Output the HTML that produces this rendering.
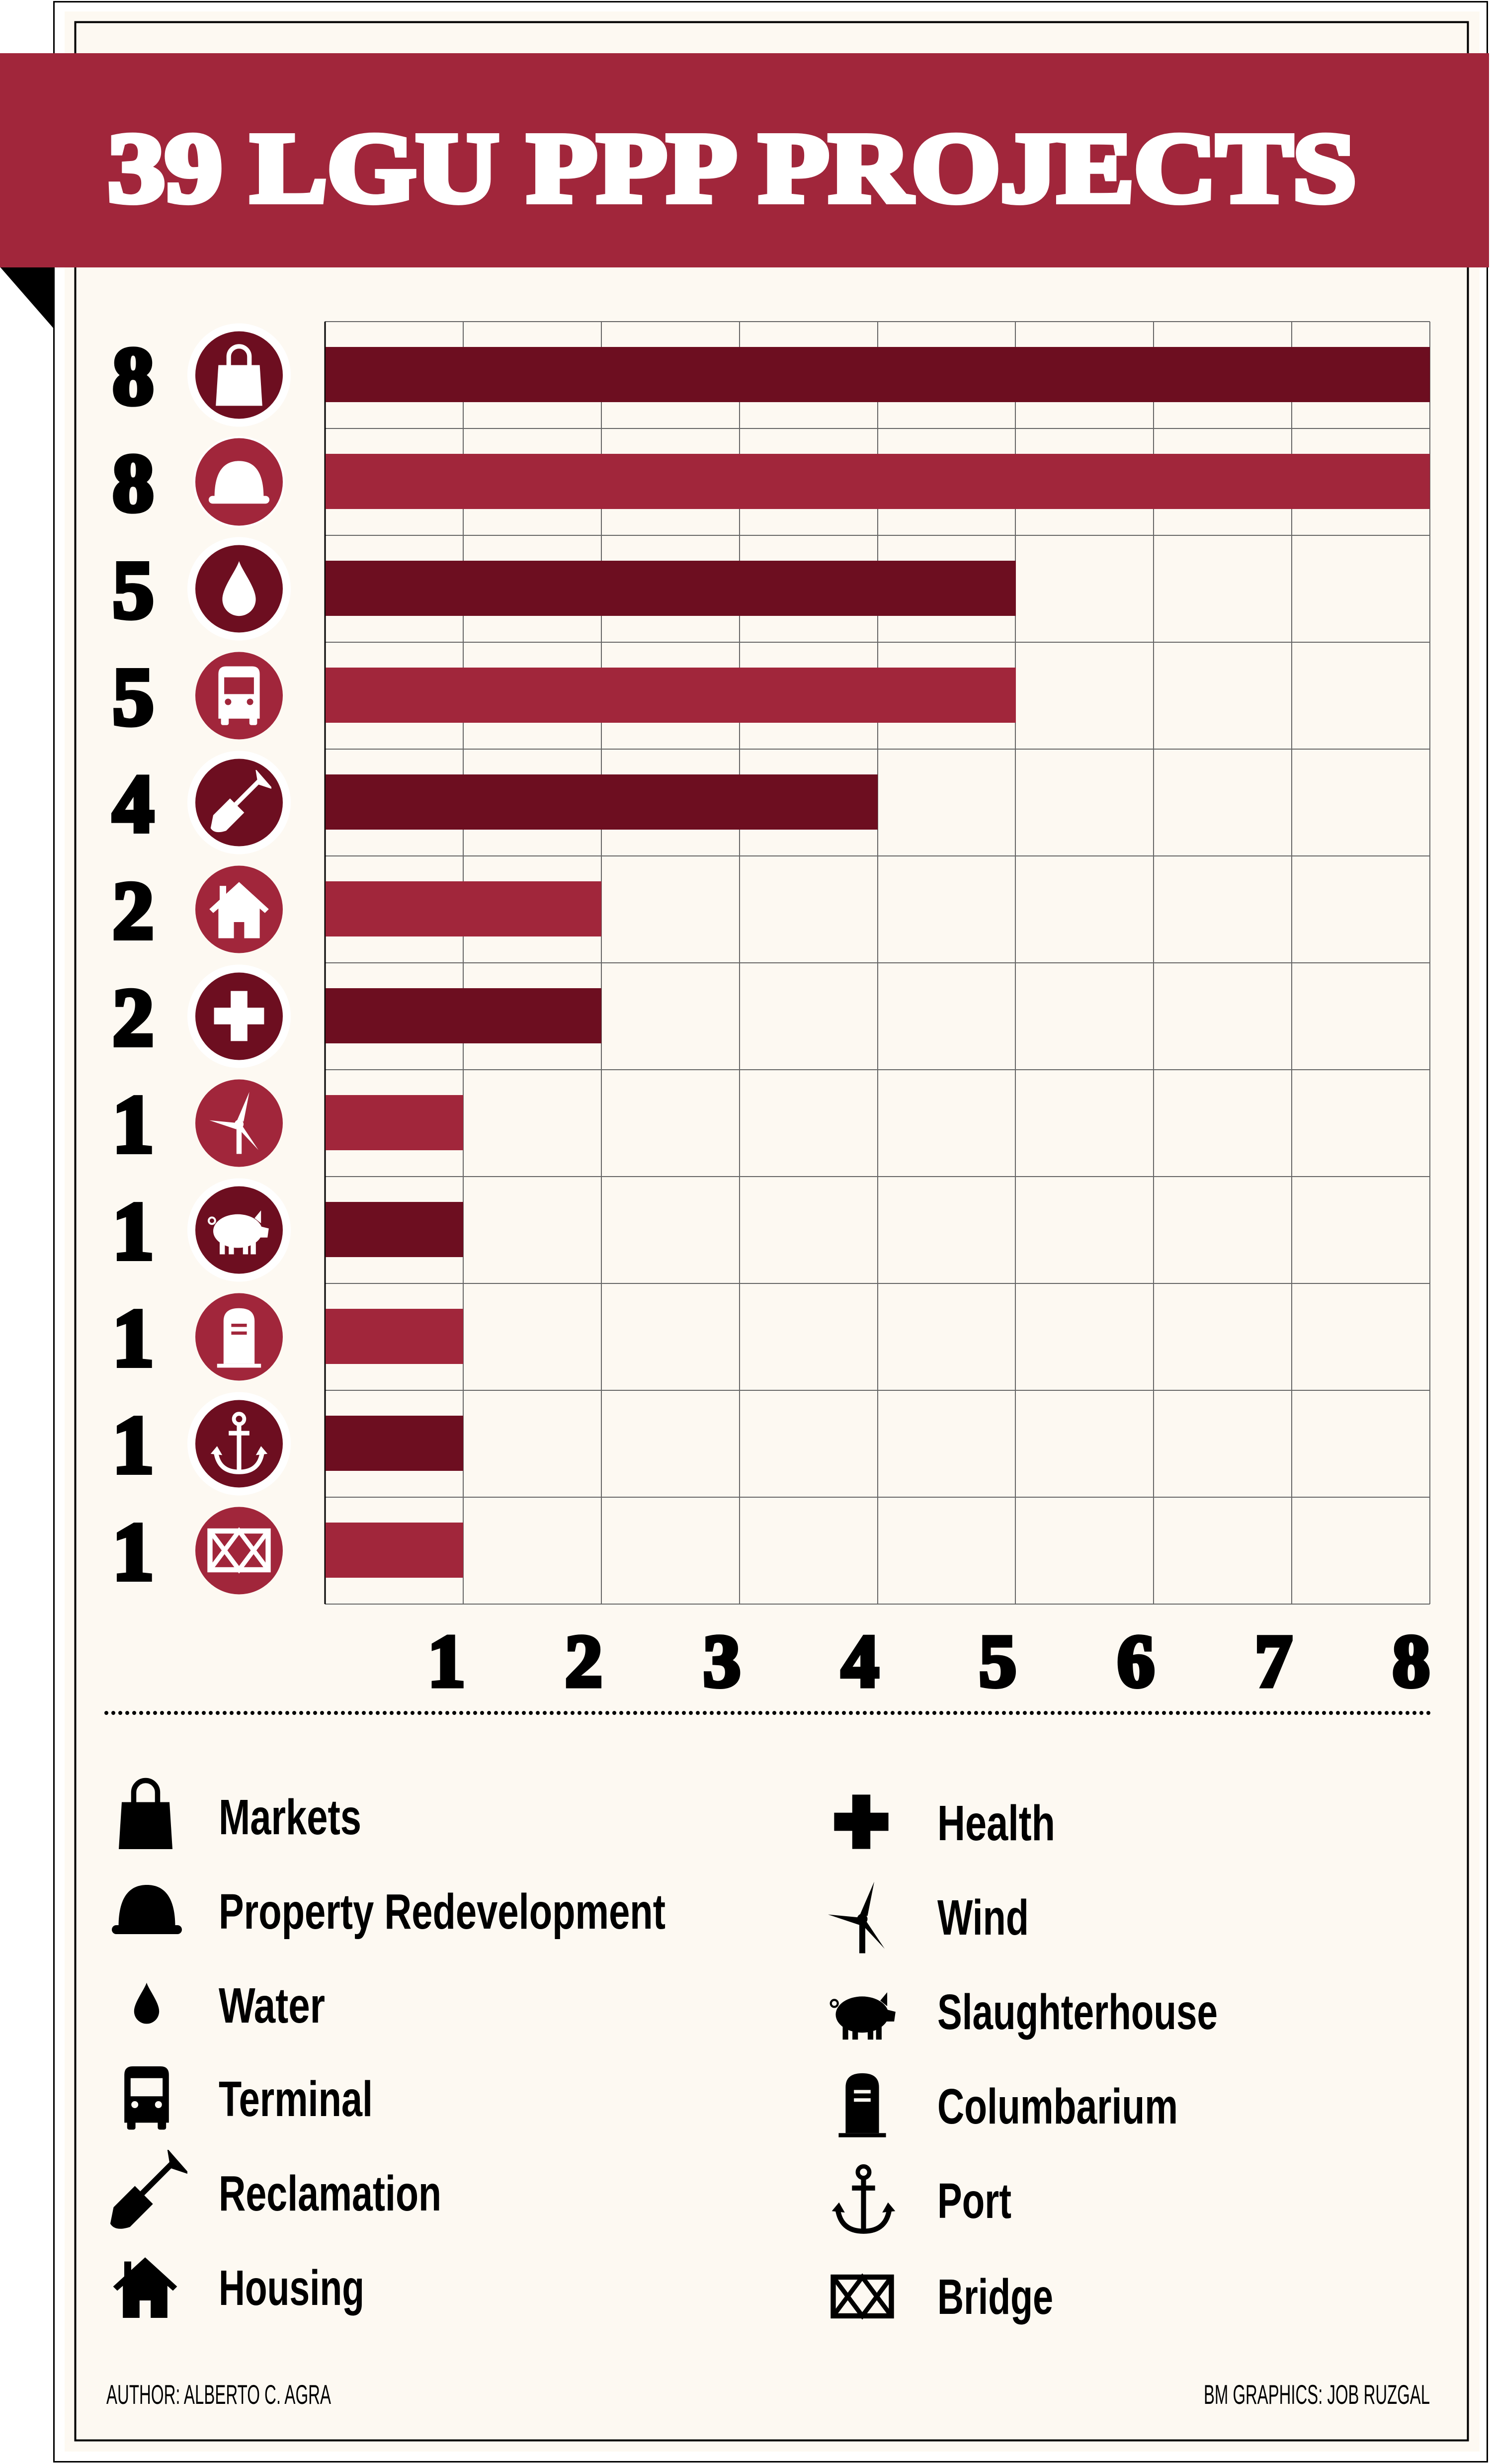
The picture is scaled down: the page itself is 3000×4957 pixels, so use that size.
<!DOCTYPE html>
<html><head><meta charset="utf-8"><style>
html,body{margin:0;padding:0;background:#fff;}
svg{display:block;}
</style></head><body>
<svg width="3000" height="4957" viewBox="0 0 3000 4957" xmlns="http://www.w3.org/2000/svg">
<defs>
<symbol id="bag" viewBox="0 0 100 100"><path d="M18 35 H82 L86 98 H14 Z" fill="currentColor"/><path d="M34 42 V22 a16 16 0 0 1 32 0 V42" fill="none" stroke="currentColor" stroke-width="7"/></symbol>
<symbol id="helmet" viewBox="0 0 100 100"><path d="M12 74 C12 30 30 18 50 18 C70 18 88 30 88 74 Z" fill="currentColor"/><rect x="3" y="72" width="94" height="12" rx="6" fill="currentColor"/></symbol>
<symbol id="drop" viewBox="0 0 100 100"><path d="M50 4 C45 20 22 48 22 68 A28 28 0 0 0 78 68 C78 48 55 20 50 4Z" fill="currentColor"/></symbol>
<symbol id="bus" viewBox="0 0 100 100"><path fill-rule="evenodd" fill="currentColor" d="M30 5 H70 Q82 5 82 17 V86 H18 V17 Q18 5 30 5 Z M27 22 V48 H73 V22 Z M28 60 a5 5 0 1 0 10 0 a5 5 0 1 0 -10 0 Z M62 60 a5 5 0 1 0 10 0 a5 5 0 1 0 -10 0Z"/><rect x="22" y="82" width="12" height="14" rx="3" fill="currentColor"/><rect x="66" y="82" width="12" height="14" rx="3" fill="currentColor"/></symbol>
<symbol id="shovel" viewBox="0 0 100 100"><path d="M42 56 L84 14" stroke="currentColor" stroke-width="7" fill="none"/><path d="M80 8 L94 24 L82 20 Z" fill="none" stroke="currentColor" stroke-width="6"/><path d="M36 44 L58 66 L30 94 Q12 100 6 90 L10 70 Z" fill="currentColor"/></symbol>
<symbol id="house" viewBox="0 0 100 100"><path fill="currentColor" fill-rule="evenodd" d="M50 8 L96 50 L90 56 L82 49 V95 H18 V49 L10 56 L4 50 Z M42 95 V70 H58 V95 Z"/><rect x="20" y="14" width="10" height="22" fill="currentColor"/></symbol>
<symbol id="cross" viewBox="0 0 100 100"><path fill="currentColor" d="M36 8 H64 V36 H92 V64 H64 V92 H36 V64 H8 V36 H36 Z"/></symbol>
<symbol id="wind" viewBox="0 0 100 100"><rect x="46" y="52" width="8" height="46" fill="currentColor"/><path fill="currentColor" d="M47 46 L66 2 L57 48 Z M46 50 L4 46 L46 60 Z M54 53 L80 92 L51 61 Z"/><circle cx="50" cy="52" r="7" fill="currentColor"/></symbol>
<symbol id="pig" viewBox="0 0 100 100"><ellipse cx="48" cy="52" rx="38" ry="26" fill="currentColor"/><path d="M74 32 L84 20 L84 40 Z M80 44 L96 48 L94 62 L80 62 Z" fill="currentColor"/><rect x="20" y="66" width="8" height="22" fill="currentColor"/><rect x="34" y="66" width="8" height="22" fill="currentColor"/><rect x="56" y="66" width="8" height="22" fill="currentColor"/><rect x="68" y="66" width="8" height="22" fill="currentColor"/><circle cx="8" cy="36" r="5" fill="none" stroke="currentColor" stroke-width="3"/></symbol>
<symbol id="tomb" viewBox="0 0 100 100"><path fill="currentColor" fill-rule="evenodd" d="M26 92 V26 Q26 6 50 6 Q74 6 74 26 V92 Z M38 30 H62 V35 H38 Z M38 42 H62 V47 H38 Z"/><rect x="16" y="92" width="68" height="6" fill="currentColor"/></symbol>
<symbol id="anchor" viewBox="0 0 100 100"><circle cx="50" cy="12" r="8" fill="none" stroke="currentColor" stroke-width="6"/><path d="M50 20 V94 M34 34 H66 M14 62 Q18 94 50 94 Q82 94 86 62" fill="none" stroke="currentColor" stroke-width="7"/><path d="M6 66 L16 54 L24 68 Z M94 66 L84 54 L76 68 Z" fill="currentColor"/></symbol>
<symbol id="bridge" viewBox="0 0 100 100"><rect x="5" y="20" width="90" height="60" fill="none" stroke="currentColor" stroke-width="8"/><path d="M5 20 L50 80 L95 20 M5 80 L50 20 L95 80" fill="none" stroke="currentColor" stroke-width="7"/></symbol>
</defs>

<rect x="0" y="0" width="3000" height="4957" fill="#fff"/>
<rect x="108.5" y="3.5" width="2884" height="4949" fill="#fff" stroke="#000" stroke-width="3"/>
<rect x="130" y="23" width="2847" height="4909" fill="#FDF9F2"/>
<rect x="151.5" y="44.5" width="2802" height="4865" fill="#FDF9F2" stroke="#000" stroke-width="4"/>

<polygon points="0,537 109,537 109,662" fill="#000"/>
<rect x="0" y="107" width="2996" height="431" fill="#A1263B"/>
<text x="217" y="405" font-family="Liberation Serif, serif" font-weight="bold" font-size="200" fill="#fff" stroke="#fff" stroke-width="12" textLength="2512" lengthAdjust="spacingAndGlyphs">39 LGU PPP PROJECTS</text>

<g stroke="#666" stroke-width="2">
<line x1="654" y1="647" x2="2877" y2="647"/><line x1="654" y1="862" x2="2877" y2="862"/><line x1="654" y1="1077" x2="2877" y2="1077"/><line x1="654" y1="1292" x2="2877" y2="1292"/><line x1="654" y1="1507" x2="2877" y2="1507"/><line x1="654" y1="1722" x2="2877" y2="1722"/><line x1="654" y1="1937" x2="2877" y2="1937"/><line x1="654" y1="2152" x2="2877" y2="2152"/><line x1="654" y1="2367" x2="2877" y2="2367"/><line x1="654" y1="2582" x2="2877" y2="2582"/><line x1="654" y1="2797" x2="2877" y2="2797"/><line x1="654" y1="3012" x2="2877" y2="3012"/><line x1="654" y1="3227" x2="2877" y2="3227"/>
<line x1="932" y1="647" x2="932" y2="3227"/><line x1="1210" y1="647" x2="1210" y2="3227"/><line x1="1488" y1="647" x2="1488" y2="3227"/><line x1="1766" y1="647" x2="1766" y2="3227"/><line x1="2043" y1="647" x2="2043" y2="3227"/><line x1="2321" y1="647" x2="2321" y2="3227"/><line x1="2599" y1="647" x2="2599" y2="3227"/><line x1="2877" y1="647" x2="2877" y2="3227"/>
</g>
<line x1="654" y1="647" x2="654" y2="3227" stroke="#000" stroke-width="3"/>

<rect x="655" y="698" width="2222" height="111" fill="#6D0E20"/>
<rect x="655" y="913" width="2222" height="111" fill="#A1263B"/>
<rect x="655" y="1128" width="1389" height="111" fill="#6D0E20"/>
<rect x="655" y="1343" width="1389" height="111" fill="#A1263B"/>
<rect x="655" y="1558" width="1111" height="111" fill="#6D0E20"/>
<rect x="655" y="1773" width="555" height="111" fill="#A1263B"/>
<rect x="655" y="1988" width="555" height="111" fill="#6D0E20"/>
<rect x="655" y="2203" width="277" height="111" fill="#A1263B"/>
<rect x="655" y="2418" width="277" height="111" fill="#6D0E20"/>
<rect x="655" y="2633" width="277" height="111" fill="#A1263B"/>
<rect x="655" y="2848" width="277" height="111" fill="#6D0E20"/>
<rect x="655" y="3063" width="277" height="111" fill="#A1263B"/>

<g font-family="Liberation Serif, serif" font-weight="bold" font-size="165" text-anchor="middle" fill="#000" stroke="#000" stroke-width="10">
<text x="268" y="812">8</text><text x="268" y="1027">8</text><text x="268" y="1242">5</text><text x="268" y="1457">5</text><text x="268" y="1672">4</text><text x="268" y="1887">2</text><text x="268" y="2102">2</text><text x="268" y="2317">1</text><text x="268" y="2532">1</text><text x="268" y="2747">1</text><text x="268" y="2962">1</text><text x="268" y="3177">1</text>
</g>

<g>
<circle cx="481" cy="754.5" r="104" fill="#fff"/><circle cx="481" cy="754.5" r="88" fill="#6D0E20"/>
<circle cx="481" cy="969.5" r="92" fill="#fff"/><circle cx="481" cy="969.5" r="88" fill="#A1263B"/>
<circle cx="481" cy="1184.5" r="104" fill="#fff"/><circle cx="481" cy="1184.5" r="88" fill="#6D0E20"/>
<circle cx="481" cy="1399.5" r="88" fill="#A1263B"/>
<circle cx="481" cy="1614.5" r="104" fill="#fff"/><circle cx="481" cy="1614.5" r="88" fill="#6D0E20"/>
<circle cx="481" cy="1829.5" r="88" fill="#A1263B"/>
<circle cx="481" cy="2044.5" r="104" fill="#fff"/><circle cx="481" cy="2044.5" r="88" fill="#6D0E20"/>
<circle cx="481" cy="2259.5" r="88" fill="#A1263B"/>
<circle cx="481" cy="2474.5" r="104" fill="#fff"/><circle cx="481" cy="2474.5" r="88" fill="#6D0E20"/>
<circle cx="481" cy="2689.5" r="88" fill="#A1263B"/>
<circle cx="481" cy="2904.5" r="104" fill="#fff"/><circle cx="481" cy="2904.5" r="88" fill="#6D0E20"/>
<circle cx="481" cy="3119.5" r="88" fill="#A1263B"/>
</g>
<g color="#fff">
<use href="#bag" x="416" y="689" width="130" height="130"/>
<use href="#helmet" x="416" y="904" width="130" height="130"/>
<use href="#drop" x="421" y="1124" width="120" height="120"/>
<use href="#bus" x="416" y="1334" width="130" height="130"/>
<use href="#shovel" x="416" y="1549" width="130" height="130"/>
<use href="#house" x="416" y="1764" width="130" height="130"/>
<use href="#cross" x="421" y="1984" width="120" height="120"/>
<use href="#wind" x="416" y="2194" width="130" height="130"/>
<use href="#pig" x="416" y="2409" width="130" height="130"/>
<use href="#tomb" x="416" y="2624" width="130" height="130"/>
<use href="#anchor" x="416" y="2839" width="130" height="130"/>
<use href="#bridge" x="416" y="3054" width="130" height="130"/>
</g>

<g font-family="Liberation Serif, serif" font-weight="bold" font-size="150" text-anchor="end" fill="#000" stroke="#000" stroke-width="9">
<text x="936" y="3392">1</text><text x="1212" y="3392">2</text><text x="1490" y="3392">3</text><text x="1768" y="3392">4</text><text x="2045" y="3392">5</text><text x="2323" y="3392">6</text><text x="2600" y="3392">7</text><text x="2877" y="3392">8</text>
</g>

<line x1="214" y1="3446" x2="2880" y2="3446" stroke="#000" stroke-width="8" stroke-linecap="round" stroke-dasharray="0 14"/>

<g color="#000">
<use href="#bag" x="218" y="3568" width="150" height="160"/>
<use href="#helmet" x="218" y="3765" width="155" height="150"/>
<use href="#drop" x="250" y="3975" width="90" height="110"/>
<use href="#bus" x="220" y="4150" width="150" height="140"/>
<use href="#shovel" x="212" y="4325" width="165" height="165"/>
<use href="#house" x="222" y="4530" width="140" height="140"/>
<use href="#cross" x="1668" y="3600" width="130" height="130"/>
<use href="#wind" x="1660" y="3780" width="150" height="155"/>
<use href="#pig" x="1655" y="3980" width="165" height="140"/>
<use href="#tomb" x="1665" y="4150" width="140" height="165"/>
<use href="#anchor" x="1665" y="4345" width="145" height="160"/>
<use href="#bridge" x="1655" y="4555" width="160" height="130"/>
</g>
<g font-family="Liberation Sans Narrow, Liberation Sans, sans-serif" font-weight="bold" font-size="100" fill="#000">
<text x="440" y="3690" textLength="287" lengthAdjust="spacingAndGlyphs">Markets</text>
<text x="440" y="3880" textLength="899" lengthAdjust="spacingAndGlyphs">Property Redevelopment</text>
<text x="440" y="4069" textLength="214" lengthAdjust="spacingAndGlyphs">Water</text>
<text x="440" y="4257" textLength="310" lengthAdjust="spacingAndGlyphs">Terminal</text>
<text x="440" y="4447" textLength="448" lengthAdjust="spacingAndGlyphs">Reclamation</text>
<text x="440" y="4637" textLength="293" lengthAdjust="spacingAndGlyphs">Housing</text>
<text x="1886" y="3702" textLength="237" lengthAdjust="spacingAndGlyphs">Health</text>
<text x="1886" y="3892" textLength="184" lengthAdjust="spacingAndGlyphs">Wind</text>
<text x="1886" y="4082" textLength="564" lengthAdjust="spacingAndGlyphs">Slaughterhouse</text>
<text x="1886" y="4272" textLength="484" lengthAdjust="spacingAndGlyphs">Columbarium</text>
<text x="1886" y="4462" textLength="149" lengthAdjust="spacingAndGlyphs">Port</text>
<text x="1886" y="4655" textLength="233" lengthAdjust="spacingAndGlyphs">Bridge</text>
</g>
<g font-family="Liberation Sans Narrow, Liberation Sans, sans-serif" font-size="55" fill="#000">
<text x="214" y="4836" textLength="452" lengthAdjust="spacingAndGlyphs">AUTHOR: ALBERTO C. AGRA</text>
<text x="2877" y="4836" text-anchor="end" textLength="455" lengthAdjust="spacingAndGlyphs">BM GRAPHICS: JOB RUZGAL</text>
</g>
</svg>
</body></html>
